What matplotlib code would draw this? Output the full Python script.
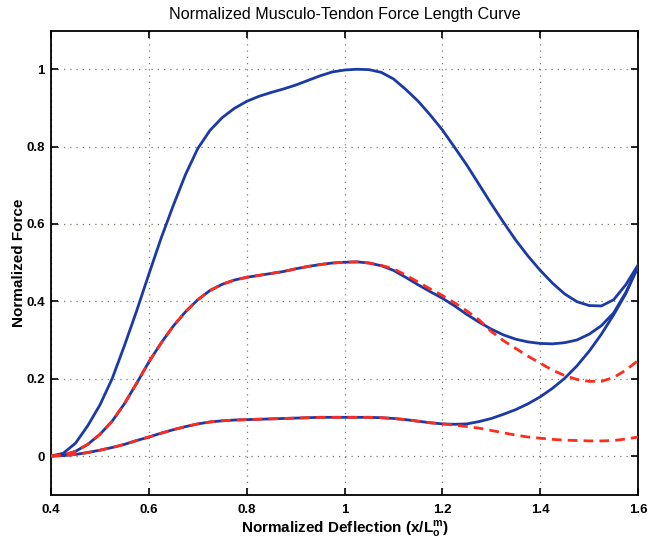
import numpy as np
import matplotlib.pyplot as plt

plt.rcParams['font.family'] = ['Liberation Sans', 'DejaVu Sans']

# Normalized deflection samples (x/Lo^m)
x = [0.400, 0.425, 0.450, 0.475, 0.500, 0.525, 0.550, 0.575, 0.600, 0.625,
     0.650, 0.675, 0.700, 0.725, 0.750, 0.775, 0.800, 0.825, 0.850, 0.875,
     0.900, 0.925, 0.950, 0.975, 1.000, 1.025, 1.050, 1.075, 1.100, 1.125,
     1.150, 1.175, 1.200, 1.225, 1.250, 1.275, 1.300, 1.325, 1.350, 1.375,
     1.400, 1.425, 1.450, 1.475, 1.500, 1.525, 1.550, 1.575, 1.600]

# blue: musculo-tendon force, full activation
force_a100 = [0.000, 0.007, 0.033, 0.078, 0.132, 0.200, 0.285, 0.375, 0.470, 0.563,
              0.648, 0.728, 0.795, 0.842, 0.875, 0.899, 0.917, 0.930, 0.940, 0.949,
              0.959, 0.971, 0.983, 0.993, 0.998, 1.000, 0.999, 0.992, 0.975, 0.948,
              0.918, 0.882, 0.843, 0.798, 0.752, 0.702, 0.652, 0.604, 0.558, 0.517,
              0.480, 0.447, 0.419, 0.399, 0.389, 0.388, 0.404, 0.443, 0.494]

# blue: half activation
force_a50 = [0.000, 0.002, 0.012, 0.030, 0.056, 0.090, 0.135, 0.188, 0.243, 0.292,
             0.336, 0.373, 0.404, 0.428, 0.444, 0.455, 0.462, 0.467, 0.472, 0.477,
             0.484, 0.490, 0.495, 0.499, 0.501, 0.502, 0.499, 0.492, 0.480, 0.462,
             0.443, 0.425, 0.408, 0.388, 0.366, 0.346, 0.328, 0.313, 0.302, 0.295,
             0.291, 0.290, 0.293, 0.300, 0.315, 0.337, 0.370, 0.423, 0.490]

# blue: 10% activation
force_a10 = [0.000, 0.001, 0.004, 0.009, 0.015, 0.022, 0.030, 0.040, 0.049, 0.059,
             0.068, 0.076, 0.083, 0.088, 0.091, 0.093, 0.094, 0.095, 0.096, 0.097,
             0.098, 0.099, 0.100, 0.100, 0.100, 0.100, 0.100, 0.099, 0.097, 0.094,
             0.090, 0.086, 0.083, 0.082, 0.083, 0.089, 0.097, 0.108, 0.120, 0.135,
             0.153, 0.175, 0.201, 0.233, 0.271, 0.315, 0.365, 0.420, 0.490]

# red dashed: active component only
active_a50 = [0.000, 0.002, 0.012, 0.030, 0.056, 0.090, 0.135, 0.188, 0.243, 0.292,
              0.336, 0.373, 0.404, 0.428, 0.444, 0.455, 0.462, 0.467, 0.472, 0.477,
              0.484, 0.490, 0.495, 0.499, 0.501, 0.502, 0.499, 0.493, 0.484, 0.468,
              0.450, 0.432, 0.415, 0.396, 0.375, 0.352, 0.322, 0.298, 0.278, 0.258,
              0.240, 0.222, 0.208, 0.198, 0.193, 0.193, 0.203, 0.222, 0.247]

active_a10 = [0.000, 0.001, 0.004, 0.009, 0.015, 0.022, 0.030, 0.040, 0.049, 0.059,
              0.068, 0.076, 0.083, 0.088, 0.091, 0.093, 0.094, 0.095, 0.096, 0.097,
              0.098, 0.099, 0.100, 0.100, 0.100, 0.100, 0.100, 0.099, 0.097, 0.094,
              0.090, 0.086, 0.083, 0.080, 0.076, 0.072, 0.066, 0.060, 0.054, 0.049,
              0.046, 0.043, 0.041, 0.040, 0.039, 0.039, 0.040, 0.044, 0.049]

blue = '#1c3aa6'
red = '#ff2b1c'

fig = plt.figure(figsize=(6.48, 5.46), dpi=100)
ax = fig.add_axes([0.0787, 0.094, 0.906, 0.850])

for f in (force_a100, force_a50, force_a10):
    ax.plot(x, f, color=blue, lw=2.0, zorder=3)
for f in (active_a50, active_a10):
    ax.plot(x, f, color=red, lw=2.0, ls=(0, (3.5, 2.2)), zorder=4)

ax.set_xlim(0.4, 1.6)
ax.set_ylim(-0.1, 1.1)
ax.set_xticks(np.arange(0.4, 1.61, 0.2))
ax.set_xticklabels(['0.4', '0.6', '0.8', '1', '1.2', '1.4', '1.6'])
ax.set_yticks(np.arange(0, 1.01, 0.2))
ax.set_yticklabels(['0', '0.2', '0.4', '0.6', '0.8', '1'])
ax.grid(True, color='#7a7a6a', ls=(0, (1, 4)), lw=0.9)
ax.tick_params(direction='in', length=5, width=1.2, top=True, right=True,
               labelsize=9.5)
ax.tick_params(axis='y', pad=4.5)
ax.tick_params(axis='x', pad=7)
for lab in ax.get_xticklabels() + ax.get_yticklabels():
    lab.set_fontweight('bold')
for s in ax.spines.values():
    s.set_linewidth(1.3)

ax.set_title('Normalized Musculo-Tendon Force Length Curve', fontsize=11.6, pad=8)
ax.set_xlabel(r'Normalized Deflection (x/L$_\mathregular{o}^\mathregular{m}$)',
              fontsize=11, fontweight='bold', labelpad=2)
ax.set_ylabel('Normalized Force', fontsize=11, fontweight='bold', labelpad=0)

plt.savefig('out.png', dpi=100)
